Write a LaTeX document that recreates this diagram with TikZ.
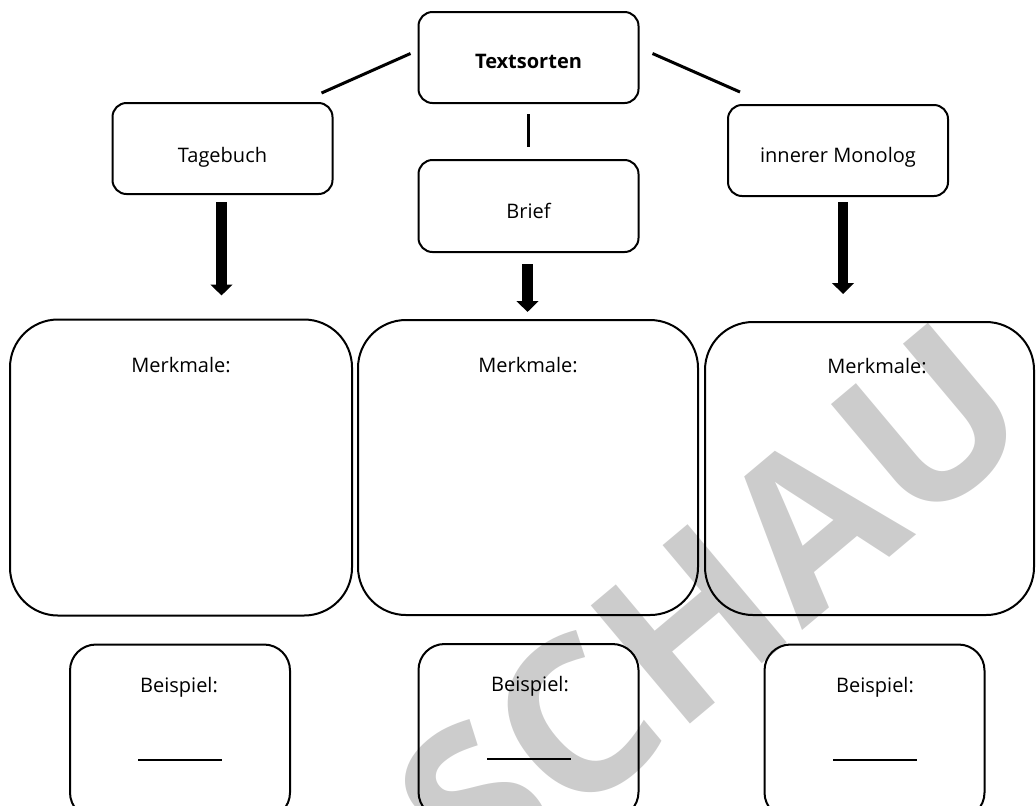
\documentclass[tikz,border=0pt]{standalone}
\usepackage{fontspec}
\setmainfont{Open Sans}
\usetikzlibrary{arrows.meta}
\usetikzlibrary{calc}
\usetikzlibrary{positioning}
\tikzset{smallbox/.style = {draw, line width=1pt, rounded corners=7pt, inner sep=0pt,
                            minimum width=110pt, minimum height=45.5pt},
         bigbox/.style = {draw, line width=1pt, rounded corners=24pt, inner sep=0pt,
                          minimum height=148pt},
         samplebox/.style = {draw, line width=1pt, rounded corners=13pt, inner sep=0pt,
                             minimum width=110pt, minimum height=87pt},
         lbl/.style = {inner sep=0pt, anchor=base, font=\fontsize{10}{12}\selectfont},
         blankline/.style = {inner sep=0pt},
         link/.style = {line width=1.5pt},
         bigarrow/.style = {line width=5.3pt, -{Triangle[width=10.7pt, length=5.5pt]}},
         wmark/.style = {text=black!20, rotate=40, inner sep=0pt,
                         font=\fontsize{108}{120}\selectfont\bfseries}}

\begin{document}
\begin{tikzpicture}[x=0.5pt, y=-0.5pt]
    \useasboundingbox (0, 0) rectangle (1036, 805);
    \clip (0, 0) rectangle (1036, 805);

    % watermark
    \node [wmark] (vorschau) at (537, 752) {VORSCHAU};

    \node [smallbox] (textsorten) at (528.5, 57.5) {};
    \node [smallbox] (tagebuch) at (222.5, 148.5) {};
    \node [smallbox, minimum height=46pt] (brief) at (528.5, 206) {};
    \node [smallbox] (monolog) at (838, 150.5) {};

    \node [lbl] (textsorten-t) at (528.5, 68) {\textbf{Textsorten}};
    \node [lbl] (tagebuch-t) at (222.5, 162) {Tagebuch};
    \node [lbl] (brief-t) at (528.5, 218) {Brief};
    \node [lbl] (monolog-t) at (838, 162) {innerer Monolog};

    \node [bigbox, minimum width=171pt] (merk1) at (181, 467.5) {};
    \node [bigbox, minimum width=170pt, minimum height=147.5pt] (merk2) at (528, 467.5) {};
    \node [bigbox, minimum width=164.5pt, minimum height=146.5pt] (merk3) at (869.5, 468.5) {};

    \node [lbl] (merk1-t) at (181, 372) {Merkmale:};
    \node [lbl] (merk2-t) at (528, 372) {Merkmale:};
    \node [lbl] (merk3-t) at (877, 373) {Merkmale:};

    \node [samplebox] (bsp1) at (180, 731.5) {};
    \node [samplebox] (bsp2) at (528.5, 731) {};
    \node [samplebox] (bsp3) at (874.5, 731.5) {};

    \node [lbl] (bsp1-t) at (179, 692) {Beispiel:};
    \node [lbl] (bsp2-t) at (530, 691) {Beispiel:};
    \node [lbl] (bsp3-t) at (875, 692) {Beispiel:};

    \node [blankline] (bsp1-l) at (180, 760) {\rule{42pt}{0.7pt}};
    \node [blankline] (bsp2-l) at (529, 759) {\rule{42pt}{0.7pt}};
    \node [blankline] (bsp3-l) at (875, 760) {\rule{42pt}{0.7pt}};

    % connectors
    \draw [link] ($(textsorten.west)+(-7,-4)$) -- ($(tagebuch.north east)+(-12,-9)$);
    \draw [link] ($(textsorten.east)+(13,-4)$) -- ($(monolog.north west)+(13,-12)$);
    \draw [link] ($(textsorten.south)+(0,10)$) -- ($(brief.north)+(0,-12)$);

    \draw [bigarrow] ($(tagebuch.south)+(-1,7)$) -- ($(tagebuch.south |- merk1.north)+(-1,-23)$);
    \draw [bigarrow] ($(brief.south)+(-1,11)$) -- ($(brief.south |- merk2.north)+(-1,-7)$);
    \draw [bigarrow] ($(monolog.south)+(5,5)$) -- ($(monolog.south |- merk3.north)+(5,-27)$);
\end{tikzpicture}
\end{document}
